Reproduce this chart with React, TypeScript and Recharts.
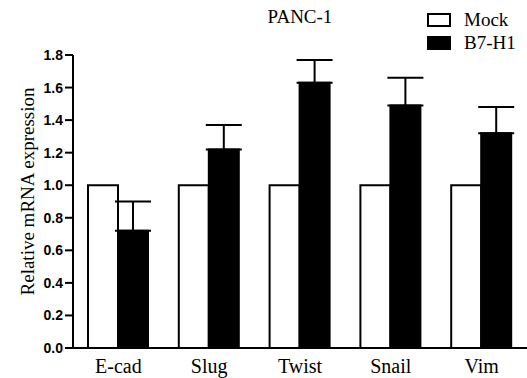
import React from 'react';
import { BarChart, Bar, XAxis, YAxis, ErrorBar } from 'recharts';

const categories = ['E-cad', 'Slug', 'Twist', 'Snail', 'Vim'];
const mockValues = [1, 1, 1, 1, 1];
const b7h1Values = [0.72, 1.22, 1.63, 1.49, 1.32];
const b7h1Errors = [0.18, 0.15, 0.14, 0.17, 0.16];
const yTicks = [0, 0.2, 0.4, 0.6, 0.8, 1.0, 1.2, 1.4, 1.6, 1.8];
const seriesNames = ['Mock', 'B7-H1'];
const seriesFills = ['#fff', '#000'];

const serif = '"Liberation Serif", "Times New Roman", serif';
const sans = '"Liberation Sans", Arial, sans-serif';

const data = categories.map((name, i) => ({
    name,
    mock: mockValues[i],
    b7h1: b7h1Values[i],
    err: [0, b7h1Errors[i]],
}));

const LegendBox = () => (
    <div style={{ position: 'absolute', top: 8, left: 427, fontFamily: serif, fontSize: 19, lineHeight: '23px', color: '#000' }}>
        {seriesNames.map((n, i) => (
            <div key={n} style={{ display: 'flex', alignItems: 'center' }}>
                <span style={{ display: 'inline-block', width: 20, height: 10, border: '2px solid #000', background: seriesFills[i], marginRight: 13 }} />
                {n}
            </div>
        ))}
    </div>
);

const YLabel = (props: any) => {
    const vb = props.viewBox || { y: 55, height: 293 };
    const cy = vb.y + vb.height / 2 - 10;
    return (
        <text
            x={27}
            y={cy}
            transform={`rotate(-90, 27, ${cy})`}
            textAnchor="middle"
            dominantBaseline="central"
            fontFamily={serif}
            fontSize={19}
            fill="#000"
        >
            Relative mRNA expression
        </text>
    );
};

export default function App() {
    return (
        <div style={{ position: 'absolute', left: 0, top: 0, width: 527, height: 378, background: '#fff' }}>
            <div style={{ position: 'absolute', left: 200, width: 200, top: 6, textAlign: 'center', fontFamily: serif, fontSize: 19, color: '#000' }}>
                PANC-1
            </div>
            <LegendBox />
            <BarChart
                width={527}
                height={378}
                data={data}
                margin={{ top: 55, right: 0, left: 0, bottom: 0 }}
                barCategoryGap={15}
                barGap={0}
            >
                <XAxis
                    dataKey="name"
                    height={30}
                    tickLine={false}
                    tickMargin={5}
                    axisLine={{ stroke: '#000', strokeWidth: 2 }}
                    tick={{ fill: '#000', fontSize: 20, fontFamily: serif }}
                    interval={0}
                />
                <YAxis
                    width={73}
                    domain={[0, 1.8]}
                    ticks={yTicks}
                    tickFormatter={(v: number) => v.toFixed(1)}
                    tickSize={8}
                    tickMargin={2}
                    axisLine={{ stroke: '#000', strokeWidth: 2 }}
                    tickLine={{ stroke: '#000', strokeWidth: 2 }}
                    tick={{ fill: '#000', fontSize: 14, fontWeight: 'bold', fontFamily: sans }}
                    label={<YLabel />}
                />
                <Bar dataKey="mock" fill="#fff" stroke="#000" strokeWidth={2} isAnimationActive={false} />
                <Bar dataKey="b7h1" fill="#000" stroke="#000" strokeWidth={2} isAnimationActive={false}>
                    <ErrorBar dataKey="err" width={18} stroke="#000" strokeWidth={2} direction="y" />
                </Bar>
            </BarChart>
        </div>
    );
}
